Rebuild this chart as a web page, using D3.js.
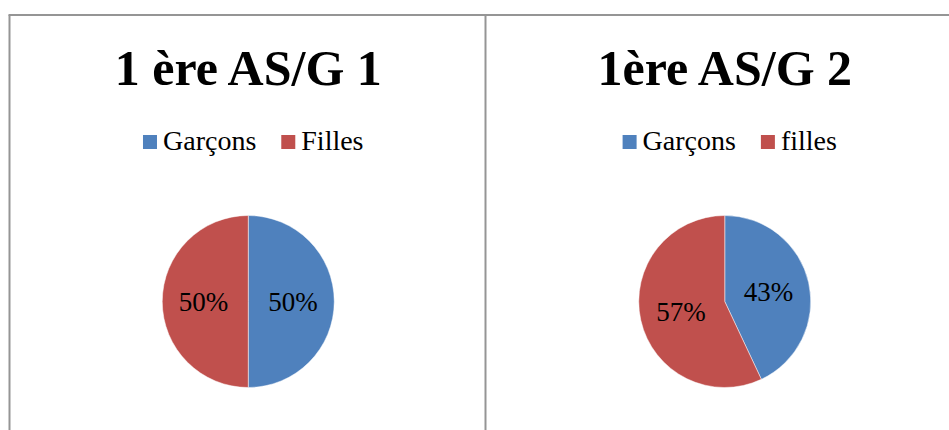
<!DOCTYPE html>
<html>
<head>
<meta charset="utf-8">
<script src="https://cdn.jsdelivr.net/npm/d3@7"></script>
<style>
  html, body { margin: 0; padding: 0; background: #fff; }
  svg { display: block; }
</style>
</head>
<body>
<svg id="chart" width="949" height="430"></svg>
<script>
// ---- data ----
const titles = ["1 ère AS/G 1", "1ère AS/G 2"];
const categories1 = ["Garçons", "Filles"];
const categories2 = ["Garçons", "filles"];
const values1 = [50, 50];
const values2 = [43, 57];
const seriesColors = ["#4F81BD", "#C0504D"];

const panels = [
  { title: titles[0], cats: categories1, vals: values1 },
  { title: titles[1], cats: categories2, vals: values2 }
];

const W = 949, H = 430;
const svg = d3.select("#chart");
const font = "'Liberation Serif', 'Times New Roman', serif";

const panelLeft = 10, panelW = 476.5, topY = 15;
const radius = 86;

// borders
const border = svg.append("g").attr("stroke", "#959595").attr("stroke-width", 2).attr("fill", "none");
border.append("line").attr("x1", 8.5).attr("x2", W).attr("y1", topY).attr("y2", topY);
border.append("line").attr("x1", 9.5).attr("x2", 9.5).attr("y1", topY).attr("y2", H);
border.append("line").attr("x1", 485.5).attr("x2", 485.5).attr("y1", topY).attr("y2", H);

const pie = d3.pie().sort(null).value(d => d);
const arc = d3.arc().innerRadius(0).outerRadius(radius);
const labelArc = d3.arc().innerRadius(radius * 0.52).outerRadius(radius * 0.52);
const color = d3.scaleOrdinal().range(seriesColors);

panels.forEach((p, i) => {
  const cx = panelLeft + panelW * i + panelW / 2;
  const g = svg.append("g");

  // title
  g.append("text")
    .attr("x", cx).attr("y", 85)
    .attr("text-anchor", "middle")
    .attr("font-family", font)
    .attr("font-weight", "bold")
    .attr("font-size", 50)
    .attr("fill", "#000")
    .text(p.title);

  // legend
  const leg = g.append("g");
  let x = 0;
  const sq = 14, gapText = 6, gapItem = 25;
  p.cats.forEach((c, k) => {
    leg.append("rect")
      .attr("x", x).attr("y", 135).attr("width", sq).attr("height", sq)
      .attr("fill", color(k));
    const t = leg.append("text")
      .attr("x", x + sq + gapText).attr("y", 150)
      .attr("font-family", font)
      .attr("font-size", 28)
      .attr("fill", "#000")
      .text(c);
    x += sq + gapText + t.node().getComputedTextLength() + gapItem;
  });
  const legW = x - gapItem;
  leg.attr("transform", `translate(${cx + 5 - legW / 2},0)`);

  // pie
  const pg = g.append("g").attr("transform", `translate(${cx},301.5)`);
  const arcs = pie(p.vals);
  pg.selectAll("path").data(arcs).enter().append("path")
    .attr("d", arc)
    .attr("fill", (d, k) => color(k))
    .attr("stroke", "#ffffff")
    .attr("stroke-opacity", 0.6)
    .attr("stroke-width", 0.8);

  const total = d3.sum(p.vals);
  pg.selectAll("text.lbl").data(arcs).enter().append("text")
    .attr("class", "lbl")
    .attr("transform", d => `translate(${labelArc.centroid(d)})`)
    .attr("text-anchor", "middle")
    .attr("dy", "0.35em")
    .attr("font-family", font)
    .attr("font-size", 27)
    .attr("fill", "#000")
    .text(d => Math.round(d.data / total * 100) + "%");
});
</script>
</body>
</html>
